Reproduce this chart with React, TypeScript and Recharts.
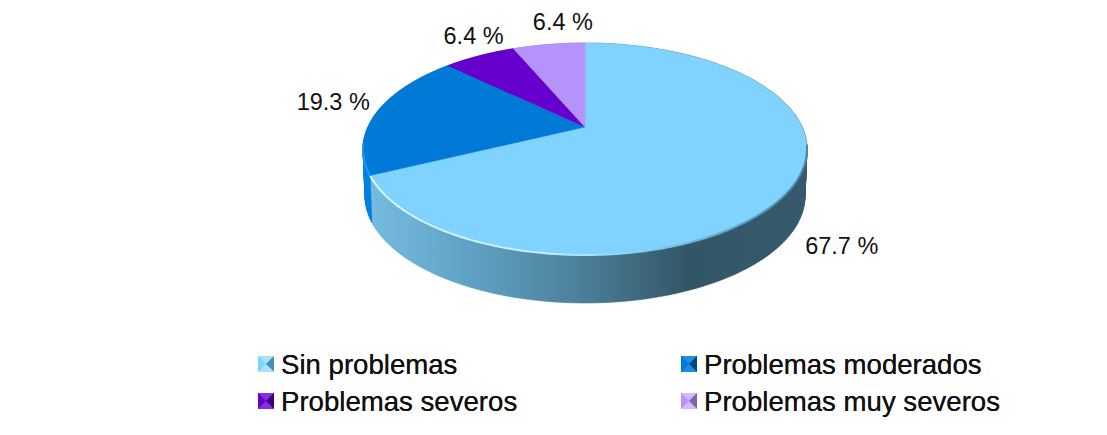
import React from "react";
import { PieChart, Pie, Legend } from "recharts";

const categories = ["Sin problemas", "Problemas moderados", "Problemas severos", "Problemas muy severos"];
const shares = [67.7, 19.3, 6.4, 6.4];
const tickLabels = ["67.7 %", "19.3 %", "6.4 %", "6.4 %"];
const sliceColors = ["#80D2FF", "#007AD6", "#6600CC", "#B693FA"];
const wallColors = ["url(#wallGradient)", "#0080E4", "#5200A3", "#9276CC"];
const iconLight = ["#A6E2FF", "#1A8FE0", "#8530E0", "#D2BAFF"];
const iconDark = ["#4A8EB0", "#00477F", "#3A0078", "#7A62AE"];

const rows = categories.map((name, i) => ({ name, value: shares[i], fill: sliceColors[i], wall: wallColors[i] }));

const WIDTH = 1107;
const HEIGHT = 435;
// Tilted disc: the pie's own radius drives the top ellipse, and the hub sits behind the ellipse centre.
const CENTER_X = 585;
const CENTER_Y = 149;
const RADIUS_X = 222;
const RADIUS_Y = 106;
const TILT = -0.2075;
const BASE_Y = 196;
const BASE_RX = 220;
const BASE_RY = 107;
const labelOffsets = [[50, 58], [-44, -10], [-6, -20], [14, -22]];

function tilted(angle: number, cx: number, cy: number, rx: number, ry: number) {
  const rad = (angle * Math.PI) / 180;
  const x = Math.cos(rad);
  const y = -Math.sin(rad);
  const d = 1 + TILT * y;
  return [cx + (rx * x * Math.sqrt(1 - TILT * TILT)) / d, cy + (ry * (y + TILT)) / d];
}

function arcPoints(start: number, end: number, cx: number, cy: number, rx: number, ry: number) {
  const steps = Math.max(2, Math.ceil(Math.abs(end - start)));
  const points: number[][] = [];
  for (let s = 0; s <= steps; s++) {
    points.push(tilted(start + ((end - start) * s) / steps, cx, cy, rx, ry));
  }
  return points;
}

const toPath = (points: number[][]) => points.map((p, i) => `${i ? "L" : "M"}${p[0].toFixed(2)} ${p[1].toFixed(2)}`).join(" ");

// The wall is swept quad by quad, so its silhouette follows the line joining both ellipses.
function WallSector(props: any) {
  const { cx, cy, outerRadius, startAngle, endAngle, payload } = props;
  const ry = (outerRadius * RADIUS_Y) / RADIUS_X;
  const top = arcPoints(startAngle, endAngle, cx, cy, outerRadius, ry);
  const bottom = arcPoints(startAngle, endAngle, cx, BASE_Y, BASE_RX, BASE_RY);
  const fill = payload?.wall ?? props.wall;
  const quads: string[] = [];
  for (let i = 0; i + 1 < top.length; i++) {
    quads.push(`${toPath([top[i], top[i + 1], bottom[i + 1], bottom[i]])} Z`);
  }
  return (
    <g>
      <defs>
        <linearGradient id="wallGradient" gradientUnits="userSpaceOnUse" x1="370" y1="0" x2="810" y2="0">
          <stop offset="0" stopColor="#76BCE0" />
          <stop offset="0.25" stopColor="#5E9FC0" />
          <stop offset="0.5" stopColor="#4A7C96" />
          <stop offset="0.72" stopColor="#335667" />
          <stop offset="1" stopColor="#36596C" />
        </linearGradient>
      </defs>
      <path d={quads.join(" ")} fill={fill} stroke={fill} strokeWidth={0.6} />
    </g>
  );
}

function TopSector(props: any) {
  const { cx, cy, outerRadius, startAngle, endAngle, fill } = props;
  const ry = (outerRadius * RADIUS_Y) / RADIUS_X;
  const hubY = cy + ry * TILT;
  const arc = arcPoints(startAngle, endAngle, cx, cy, outerRadius, ry);
  const rim = arc.filter((p) => p[1] > cy - 6);
  const isFirst = fill === sliceColors[0];
  const isSecond = fill === sliceColors[1];
  return (
    <g>
      <defs>
        <linearGradient id="rimGradient" gradientUnits="userSpaceOnUse" x1="370" y1="0" x2="810" y2="0">
          <stop offset="0" stopColor="#D6F6FF" />
          <stop offset="0.4" stopColor="#C4EEFF" />
          <stop offset="0.58" stopColor="#8CD6FC" />
          <stop offset="0.72" stopColor="#6DB8E0" />
          <stop offset="0.88" stopColor="#5595B8" />
          <stop offset="1" stopColor="#4A84A4" />
        </linearGradient>
      </defs>
      <path d={`M${cx} ${hubY} ${toPath(arc).replace("M", "L")} Z`} fill={fill} stroke={fill} strokeWidth={0.5} />
      {isFirst && <path d={toPath(rim)} fill="none" stroke="url(#rimGradient)" strokeWidth={2} />}
      {isSecond && <path d={toPath(rim)} fill="none" stroke="#1E96F0" strokeWidth={2} />}
    </g>
  );
}

function SliceLabel(props: any) {
  const { cx, cy, outerRadius, midAngle, index } = props;
  const ry = (outerRadius * RADIUS_Y) / RADIUS_X;
  const anchor = tilted(midAngle, cx, cy, outerRadius, ry);
  const offset = labelOffsets[index];
  return (
    <text
      x={anchor[0] + offset[0]}
      y={anchor[1] + offset[1]}
      textAnchor="middle"
      dominantBaseline="central"
      fontFamily="'Liberation Sans', Arial, sans-serif"
      fontSize={23.5}
      fill="#111111"
    >
      {tickLabels[index]}
    </text>
  );
}

function LegendIcon({ index }: { index: number }) {
  const fill = sliceColors[index];
  return (
    <svg width={16} height={16} style={{ position: "absolute", left: 0, top: 0 }}>
      <rect x={0} y={0} width={16} height={16} fill={fill} />
      <polygon points="0,0 16,0 8,8" fill={iconLight[index]} />
      <polygon points="0,0 8,8 0,16" fill={fill} />
      <polygon points="16,0 16,16 8,8" fill={iconDark[index]} />
      <polygon points="0,16 16,16 8,8" fill={iconLight[index]} />
    </svg>
  );
}

const legendColumns = [258, 681];
const legendRows = [356, 393];

function LegendGrid({ payload }: any) {
  return (
    <div style={{ position: "relative", width: WIDTH, height: HEIGHT }}>
      {(payload ?? []).map((entry: any, i: number) => {
        const index = categories.indexOf(entry.value);
        const column = index % 2;
        const row = index >> 1;
        return (
          <div key={i} style={{ position: "absolute", left: legendColumns[column], top: legendRows[row], height: 16 }}>
            <LegendIcon index={index} />
            <span
              style={{
                position: "absolute",
                left: 23,
                top: -6,
                fontFamily: "'Liberation Sans', Arial, sans-serif",
                fontSize: 27.6,
                lineHeight: "30px",
                color: "#111111",
                whiteSpace: "nowrap",
              }}
            >
              {entry.value}
            </span>
          </div>
        );
      })}
    </div>
  );
}

export default function App() {
  return (
    <div style={{ position: "absolute", left: 0, top: 0, width: WIDTH, height: HEIGHT, background: "#FFFFFF" }}>
      <PieChart width={WIDTH} height={HEIGHT} margin={{ top: 0, right: 0, bottom: 0, left: 0 }}>
        <Pie
          data={rows}
          dataKey="value"
          nameKey="name"
          cx={CENTER_X}
          cy={CENTER_Y}
          outerRadius={RADIUS_X}
          startAngle={90}
          endAngle={-270}
          stroke="none"
          legendType="none"
          isAnimationActive={false}
          shape={WallSector}
        />
        <Pie
          data={rows}
          dataKey="value"
          nameKey="name"
          cx={CENTER_X}
          cy={CENTER_Y}
          outerRadius={RADIUS_X}
          startAngle={90}
          endAngle={-270}
          stroke="none"
          isAnimationActive={false}
          shape={TopSector}
          label={SliceLabel}
          labelLine={false}
        />
        <Legend
          content={LegendGrid}
          wrapperStyle={{ position: "absolute", left: 0, top: 0, width: WIDTH, height: HEIGHT, pointerEvents: "none" }}
        />
      </PieChart>
    </div>
  );
}
